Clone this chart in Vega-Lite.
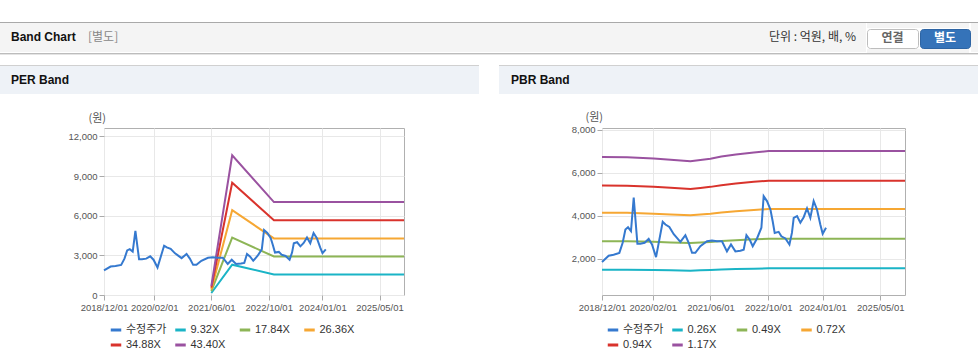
{
  "$schema": "https://vega.github.io/schema/vega-lite/v6.json",
  "background": "white",
  "padding": {"left": 0, "top": 22, "right": 0, "bottom": 0},
  "spacing": 0,
  "config": {
    "font": "Liberation Sans, Noto Sans CJK KR",
    "view": {"stroke": null},
    "title": {"anchor": "start", "frame": "group", "orient": "top", "baseline": "middle", "fontSize": 12, "fontWeight": "bold", "color": "#111111"}
  },
  "datasets": {
    "price": [
      {"d":"2018-12-01","v":1860},{"d":"2019-01-26","v":2150},{"d":"2019-03-09","v":2190},{"d":"2019-04-26","v":2280},{"d":"2019-05-24","v":2750},{"d":"2019-06-16","v":3370},{"d":"2019-07-08","v":3470},{"d":"2019-08-02","v":3290},{"d":"2019-08-25","v":4850},{"d":"2019-09-25","v":2710},{"d":"2019-10-20","v":2710},{"d":"2019-11-25","v":2750},{"d":"2019-12-29","v":2930},{"d":"2020-01-26","v":2670},{"d":"2020-02-29","v":2080},{"d":"2020-04-25","v":3730},{"d":"2020-05-18","v":3600},{"d":"2020-06-20","v":3490},{"d":"2020-07-27","v":3150},{"d":"2020-08-23","v":2980},{"d":"2020-09-21","v":2790},{"d":"2020-11-02","v":3100},{"d":"2020-11-30","v":2750},{"d":"2020-12-28","v":2280},{"d":"2021-01-25","v":2280},{"d":"2021-03-08","v":2590},{"d":"2021-05-03","v":2820},{"d":"2021-06-14","v":2850},{"d":"2021-07-26","v":2820},{"d":"2021-09-06","v":2820},{"d":"2021-10-18","v":2350},{"d":"2021-11-21","v":2670},{"d":"2021-12-28","v":2350},{"d":"2022-02-08","v":2380},{"d":"2022-03-08","v":2430},{"d":"2022-03-31","v":3100},{"d":"2022-04-27","v":2900},{"d":"2022-05-23","v":2590},{"d":"2022-06-28","v":2950},{"d":"2022-08-04","v":3450},{"d":"2022-08-23","v":4920},{"d":"2022-09-20","v":4690},{"d":"2022-10-19","v":4300},{"d":"2022-11-07","v":3750},{"d":"2022-11-24","v":3210},{"d":"2022-12-27","v":3260},{"d":"2023-01-19","v":3050},{"d":"2023-02-22","v":2950},{"d":"2023-03-28","v":2670},{"d":"2023-04-18","v":3210},{"d":"2023-05-03","v":3910},{"d":"2023-05-31","v":3990},{"d":"2023-06-28","v":3680},{"d":"2023-07-26","v":3940},{"d":"2023-08-23","v":4350},{"d":"2023-09-20","v":3910},{"d":"2023-10-18","v":4690},{"d":"2023-11-15","v":4300},{"d":"2023-12-13","v":3600},{"d":"2024-01-02","v":3170},{"d":"2024-01-30","v":3450}
    ],
    "per": [
      {"d":"2021-06-01","s":"9.32X","v":149},{"d":"2021-11-25","s":"9.32X","v":2290},{"d":"2022-11-15","s":"9.32X","v":1550},{"d":"2025-11-25","s":"9.32X","v":1550},
      {"d":"2021-06-01","s":"17.84X","v":285},{"d":"2021-11-25","s":"17.84X","v":4344},{"d":"2022-11-15","s":"17.84X","v":2910},{"d":"2025-11-25","s":"17.84X","v":2910},
      {"d":"2021-06-01","s":"26.36X","v":422},{"d":"2021-11-25","s":"26.36X","v":6419},{"d":"2022-11-15","s":"26.36X","v":4280},{"d":"2025-11-25","s":"26.36X","v":4280},
      {"d":"2021-06-01","s":"34.88X","v":558},{"d":"2021-11-25","s":"34.88X","v":8493},{"d":"2022-11-15","s":"34.88X","v":5660},{"d":"2025-11-25","s":"34.88X","v":5660},
      {"d":"2021-06-01","s":"43.40X","v":694},{"d":"2021-11-25","s":"43.40X","v":10568},{"d":"2022-11-15","s":"43.40X","v":7030},{"d":"2025-11-25","s":"43.40X","v":7030}
    ],
    "pbr": [
      {"d":"2018-12-01","s":"0.26X","v":1498},{"d":"2019-06-30","s":"0.26X","v":1496},{"d":"2020-02-09","s":"0.26X","v":1482},{"d":"2020-07-01","s":"0.26X","v":1469},{"d":"2020-12-14","s":"0.26X","v":1453},{"d":"2021-03-08","s":"0.26X","v":1467},{"d":"2021-06-01","s":"0.26X","v":1480},{"d":"2021-09-01","s":"0.26X","v":1502},{"d":"2022-01-01","s":"0.26X","v":1524},{"d":"2022-06-01","s":"0.26X","v":1544},{"d":"2022-10-04","s":"0.26X","v":1560},{"d":"2025-11-25","s":"0.26X","v":1560},
      {"d":"2018-12-01","s":"0.49X","v":2823},{"d":"2019-06-30","s":"0.49X","v":2818},{"d":"2020-02-09","s":"0.49X","v":2793},{"d":"2020-07-01","s":"0.49X","v":2768},{"d":"2020-12-14","s":"0.49X","v":2739},{"d":"2021-03-08","s":"0.49X","v":2764},{"d":"2021-06-01","s":"0.49X","v":2789},{"d":"2021-09-01","s":"0.49X","v":2831},{"d":"2022-01-01","s":"0.49X","v":2873},{"d":"2022-06-01","s":"0.49X","v":2911},{"d":"2022-10-04","s":"0.49X","v":2940},{"d":"2025-11-25","s":"0.49X","v":2940},
      {"d":"2018-12-01","s":"0.72X","v":4148},{"d":"2019-06-30","s":"0.72X","v":4142},{"d":"2020-02-09","s":"0.72X","v":4105},{"d":"2020-07-01","s":"0.72X","v":4068},{"d":"2020-12-14","s":"0.72X","v":4025},{"d":"2021-03-08","s":"0.72X","v":4062},{"d":"2021-06-01","s":"0.72X","v":4098},{"d":"2021-09-01","s":"0.72X","v":4160},{"d":"2022-01-01","s":"0.72X","v":4222},{"d":"2022-06-01","s":"0.72X","v":4277},{"d":"2022-10-04","s":"0.72X","v":4321},{"d":"2025-11-25","s":"0.72X","v":4321},
      {"d":"2018-12-01","s":"0.94X","v":5416},{"d":"2019-06-30","s":"0.94X","v":5407},{"d":"2020-02-09","s":"0.94X","v":5359},{"d":"2020-07-01","s":"0.94X","v":5311},{"d":"2020-12-14","s":"0.94X","v":5254},{"d":"2021-03-08","s":"0.94X","v":5302},{"d":"2021-06-01","s":"0.94X","v":5351},{"d":"2021-09-01","s":"0.94X","v":5431},{"d":"2022-01-01","s":"0.94X","v":5511},{"d":"2022-06-01","s":"0.94X","v":5584},{"d":"2022-10-04","s":"0.94X","v":5641},{"d":"2025-11-25","s":"0.94X","v":5641},
      {"d":"2018-12-01","s":"1.17X","v":6741},{"d":"2019-06-30","s":"1.17X","v":6730},{"d":"2020-02-09","s":"1.17X","v":6670},{"d":"2020-07-01","s":"1.17X","v":6610},{"d":"2020-12-14","s":"1.17X","v":6540},{"d":"2021-03-08","s":"1.17X","v":6600},{"d":"2021-06-01","s":"1.17X","v":6660},{"d":"2021-09-01","s":"1.17X","v":6760},{"d":"2022-01-01","s":"1.17X","v":6860},{"d":"2022-06-01","s":"1.17X","v":6950},{"d":"2022-10-04","s":"1.17X","v":7021},{"d":"2025-11-25","s":"1.17X","v":7021}
    ]
  },
  "vconcat": [
    {"width": 978, "height": 1, "view": {"fill": "#a9a9a9"}, "data": {"values": []}, "mark": "text", "encoding": {}},
    {"hconcat": [
      {"width": 80, "height": 29, "view": {"fill": "#f4f4f4"}, "data": {"values": []}, "mark": "text", "encoding": {}, "title": {"text": "Band Chart", "offset": -21, "dx": 11}},
      {"width": 689, "height": 29, "view": {"fill": "#f4f4f4"}, "data": {"values": []}, "mark": "text", "encoding": {}, "title": {"text": "[별도]", "offset": -21, "dx": 8, "fontWeight": "normal", "color": "#888888", "font": "Noto Sans CJK KR"}},
      {"width": 97, "height": 29, "view": {"fill": "#f4f4f4"}, "data": {"values": []}, "mark": "text", "encoding": {}, "title": {"text": "단위 : 억원, 배, %", "offset": -21, "dx": 0, "fontWeight": "normal", "color": "#333333", "font": "Noto Sans CJK KR"}},
      {"vconcat": [
        {"width": 102, "height": 5, "view": {"fill": "#f4f4f4"}, "data": {"values": []}, "mark": "text", "encoding": {}},
        {"hconcat": [
          {"width": 51, "height": 19, "view": {"fill": "#ffffff", "stroke": "#bdbdbd", "cornerRadius": 3}, "data": {"values": []}, "mark": "text", "encoding": {}, "title": {"text": "연결", "anchor": "middle", "offset": -16, "color": "#666666", "font": "Noto Sans CJK KR"}},
          {"width": 50, "height": 19, "view": {"fill": "#3573b9", "stroke": "#2d64a3", "cornerRadius": 3}, "data": {"values": []}, "mark": "text", "encoding": {}, "title": {"text": "별도", "anchor": "middle", "offset": -16, "color": "#ffffff", "font": "Noto Sans CJK KR"}}
        ], "spacing": 0},
        {"width": 102, "height": 4, "view": {"fill": "#f4f4f4"}, "data": {"values": []}, "mark": "text", "encoding": {}}
      ], "spacing": 0},
      {"width": 10, "height": 29, "view": {"fill": "#f4f4f4"}, "data": {"values": []}, "mark": "text", "encoding": {}}
    ], "spacing": 0},
    {"width": 978, "height": 1, "view": {"fill": "#bcbcbc"}, "data": {"values": []}, "mark": "text", "encoding": {}},
    {"width": 978, "height": 1, "view": {"fill": "#e4e4e4"}, "data": {"values": []}, "mark": "text", "encoding": {}},
    {"width": 978, "height": 10, "data": {"values": []}, "mark": "text", "encoding": {}},
    {"hconcat": [
      {"width": 479, "height": 1, "view": {"fill": "#d0d0d0"}, "data": {"values": []}, "mark": "text", "encoding": {}},
      {"width": 479, "height": 1, "view": {"fill": "#d0d0d0"}, "data": {"values": []}, "mark": "text", "encoding": {}}
    ], "spacing": 20},
    {"hconcat": [
      {"width": 479, "height": 28, "view": {"fill": "#eef2f7"}, "data": {"values": []}, "mark": "text", "encoding": {}, "title": {"text": "PER Band", "offset": -21, "dx": 11}},
      {"width": 479, "height": 28, "view": {"fill": "#eef2f7"}, "data": {"values": []}, "mark": "text", "encoding": {}, "title": {"text": "PBR Band", "offset": -21, "dx": 12}}
    ], "spacing": 20},
    {"width": 978, "height": 16, "data": {"values": []}, "mark": "text", "encoding": {}},
    {"hconcat": [
      {"width": 67, "height": 167, "data": {"values": []}, "mark": "text", "encoding": {}},
      {
        "width": 300, "height": 167,
        "view": {"stroke": "#b0b0b0", "fill": "#ffffff"},
        "encoding": {
          "x": {"field": "d", "type": "temporal",
            "scale": {"domain": [{"year": 2018, "month": 12, "date": 1}, {"year": 2025, "month": 11, "date": 25}]},
            "axis": {"values": [{"year": 2018, "month": 12, "date": 1}, {"year": 2020, "month": 2, "date": 1}, {"year": 2021, "month": 6, "date": 1}, {"year": 2022, "month": 10, "date": 1}, {"year": 2024, "month": 1, "date": 1}, {"year": 2025, "month": 5, "date": 1}],
              "format": "%Y/%m/%d", "title": null, "labelFontSize": 9.5, "labelColor": "#555555", "tickColor": "#aaaaaa", "tickSize": 5, "domain": false, "gridColor": "#e8e8e8", "labelFlush": false, "labelOverlap": false, "labelPadding": 2}},
          "y": {"field": "v", "type": "quantitative",
            "scale": {"domain": [0, 12634], "nice": false, "zero": false},
            "axis": {"values": [0, 3000, 6000, 9000, 12000], "format": ",d", "title": "(원)", "titleAngle": 0, "titleAlign": "left", "titleBaseline": "middle", "titleX": -16, "titleY": -10, "titleFontSize": 11, "titleFontWeight": "normal", "titleColor": "#555555", "titleFont": "Noto Sans CJK KR",
              "labelFontSize": 9.5, "labelColor": "#555555", "tickColor": "#aaaaaa", "tickSize": 5, "domain": false, "gridColor": "#e8e8e8", "labelPadding": 2}}
        },
        "layer": [
          {"data": {"name": "per"}, "mark": {"type": "line", "strokeWidth": 2},
            "encoding": {"color": {"field": "s", "type": "nominal",
              "scale": {"domain": ["수정주가", "9.32X", "17.84X", "26.36X", "34.88X", "43.40X"], "range": ["#3579cf", "#1ab4c6", "#8db556", "#f6a733", "#d9332c", "#9a52a0"]},
              "legend": {"orient": "bottom", "direction": "horizontal", "columns": 4, "title": null, "symbolType": "stroke", "symbolStrokeWidth": 3, "symbolSize": 110, "labelFontSize": 11, "labelColor": "#333333", "columnPadding": 1.5, "rowPadding": 2, "gridAlign": "all", "offset": 6, "padding": 5, "labelOffset": 3}}}},
          {"data": {"name": "price"}, "mark": {"type": "line", "strokeWidth": 2},
            "encoding": {"color": {"datum": "수정주가"}}}
        ]
      },
      {"width": 161, "height": 167, "data": {"values": []}, "mark": "text", "encoding": {}},
      {
        "width": 303, "height": 167,
        "view": {"stroke": "#b0b0b0", "fill": "#ffffff"},
        "encoding": {
          "x": {"field": "d", "type": "temporal",
            "scale": {"domain": [{"year": 2018, "month": 12, "date": 1}, {"year": 2025, "month": 11, "date": 25}]},
            "axis": {"values": [{"year": 2018, "month": 12, "date": 1}, {"year": 2020, "month": 2, "date": 1}, {"year": 2021, "month": 6, "date": 1}, {"year": 2022, "month": 10, "date": 1}, {"year": 2024, "month": 1, "date": 1}, {"year": 2025, "month": 5, "date": 1}],
              "format": "%Y/%m/%d", "title": null, "labelFontSize": 9.5, "labelColor": "#555555", "tickColor": "#aaaaaa", "tickSize": 5, "domain": false, "gridColor": "#e8e8e8", "labelFlush": false, "labelOverlap": false, "labelPadding": 2}},
          "y": {"field": "v", "type": "quantitative",
            "scale": {"domain": [320, 8090], "nice": false, "zero": false},
            "axis": {"values": [2000, 4000, 6000, 8000], "format": ",d", "title": "(원)", "titleAngle": 0, "titleAlign": "left", "titleBaseline": "middle", "titleX": -17, "titleY": -11, "titleFontSize": 11, "titleFontWeight": "normal", "titleColor": "#555555", "titleFont": "Noto Sans CJK KR",
              "labelFontSize": 9.5, "labelColor": "#555555", "tickColor": "#aaaaaa", "tickSize": 5, "domain": false, "gridColor": "#e8e8e8", "labelPadding": 2}}
        },
        "layer": [
          {"data": {"name": "pbr"}, "mark": {"type": "line", "strokeWidth": 2},
            "encoding": {"color": {"field": "s", "type": "nominal",
              "scale": {"domain": ["수정주가", "0.26X", "0.49X", "0.72X", "0.94X", "1.17X"], "range": ["#3579cf", "#1ab4c6", "#8db556", "#f6a733", "#d9332c", "#9a52a0"]},
              "legend": {"orient": "bottom", "direction": "horizontal", "columns": 4, "title": null, "symbolType": "stroke", "symbolStrokeWidth": 3, "symbolSize": 110, "labelFontSize": 11, "labelColor": "#333333", "columnPadding": 1.5, "rowPadding": 2, "gridAlign": "all", "offset": 7, "padding": 4, "labelOffset": 3}}}},
          {"data": {"name": "price"}, "mark": {"type": "line", "strokeWidth": 2},
            "encoding": {"color": {"datum": "수정주가"}}}
        ]
      }
    ], "spacing": 0, "resolve": {"scale": {"color": "independent", "x": "independent", "y": "independent"}, "legend": {"color": "independent"}}}
  ]
}
